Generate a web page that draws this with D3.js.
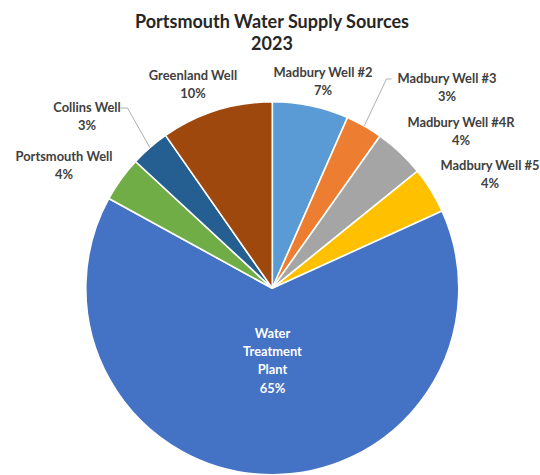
<!DOCTYPE html>
<html>
<head>
<meta charset="utf-8">
<script src="https://cdn.jsdelivr.net/npm/d3@7"></script>
<style>
  html, body { margin: 0; padding: 0; background: #ffffff; }
  svg { display: block; }
</style>
</head>
<body>
<svg id="chart" width="540" height="475"></svg>
<script>
// ---- data ----
const categories = ["Madbury Well #2", "Madbury Well #3", "Madbury Well #4R", "Madbury Well #5",
                    "Water Treatment Plant", "Portsmouth Well", "Collins Well", "Greenland Well"];
const values = [6.6, 3.2, 4.4, 4.0, 64.8, 3.9, 3.4, 9.7];
const colors = ["#5B9BD5", "#ED7D31", "#A5A5A5", "#FFC000", "#4472C4", "#70AD47", "#255E91", "#9E480E"];
const titleLines = ["Portsmouth Water Supply Sources", "2023"];

// ---- layout ----
const W = 540, H = 475;
const cx = 272.3, cy = 288.3, R = 186.5;
const font = "Lato, 'Open Sans', sans-serif";
// label placements (center x, first baseline y) and label line wrapping
const labelLayout = {
  "Madbury Well #2":  {x: 323, y: 77,  lines: ["Madbury Well #2"]},
  "Madbury Well #3":  {x: 447, y: 83,  lines: ["Madbury Well #3"], leader: true, lx: 391.5},
  "Madbury Well #4R": {x: 461, y: 127, lines: ["Madbury Well #4R"]},
  "Madbury Well #5":  {x: 490, y: 170, lines: ["Madbury Well #5"]},
  "Water Treatment Plant": {x: 272.5, y: 338, lines: ["Water", "Treatment", "Plant"], inside: true},
  "Portsmouth Well":  {x: 64,  y: 161, lines: ["Portsmouth Well"]},
  "Collins Well":     {x: 87,  y: 112, lines: ["Collins Well"], leader: true, lx: 120.5},
  "Greenland Well":   {x: 193, y: 80,  lines: ["Greenland Well"]}
};

const svg = d3.select("#chart");
const total = d3.sum(values);
const data = categories.map((c, i) => ({name: c, value: values[i], color: colors[i]}));

const pie = d3.pie().value(d => d.value).sort(null);
const arcs = pie(data);
const arc = d3.arc().innerRadius(0).outerRadius(R);

const g = svg.append("g").attr("transform", `translate(${cx},${cy})`);
g.selectAll("path.slice")
  .data(arcs)
  .enter().append("path")
  .attr("class", "slice")
  .attr("d", arc)
  .attr("fill", d => d.data.color)
  .attr("stroke", "#ffffff")
  .attr("stroke-width", 1.6)
  .attr("stroke-linejoin", "round");

// title
svg.append("text")
  .attr("x", 272).attr("y", 28)
  .attr("text-anchor", "middle")
  .attr("font-family", font).attr("font-weight", "bold")
  .attr("font-size", 18).attr("fill", "#262626")
  .selectAll("tspan").data(titleLines).enter().append("tspan")
  .attr("x", 272).attr("dy", (d, i) => i === 0 ? 0 : 22.4)
  .text(d => d);

// leader lines
const arcPoint = d3.arc().innerRadius(R).outerRadius(R);
arcs.forEach(a => {
  const L = labelLayout[a.data.name];
  if (!L.leader) return;
  const [px, py] = arcPoint.centroid(a);
  const ex = px + cx, ey = py + cy;
  const ly = L.y - 4;
  svg.append("path")
    .attr("d", `M${L.lx},${ly} L${L.lx > L.x ? L.lx + 7 : L.lx - 5},${ly} L${ex},${ey}`)
    .attr("fill", "none").attr("stroke", "#A6A6A6").attr("stroke-width", 0.9);
});

// labels
arcs.forEach(a => {
  const L = labelLayout[a.data.name];
  const pct = Math.round(a.data.value / total * 100) + "%";
  const lines = L.lines.concat([pct]);
  const t = svg.append("text")
    .attr("text-anchor", "middle")
    .attr("font-family", font).attr("font-weight", "bold")
    .attr("font-size", 12.9)
    .attr("fill", L.inside ? "#ffffff" : "#404040");
  const lh = L.inside ? 18.2 : 17.5;
  lines.forEach((s, i) => {
    t.append("tspan").attr("x", L.x).attr("y", L.y + i * lh).text(s);
  });
});
</script>
</body>
</html>
